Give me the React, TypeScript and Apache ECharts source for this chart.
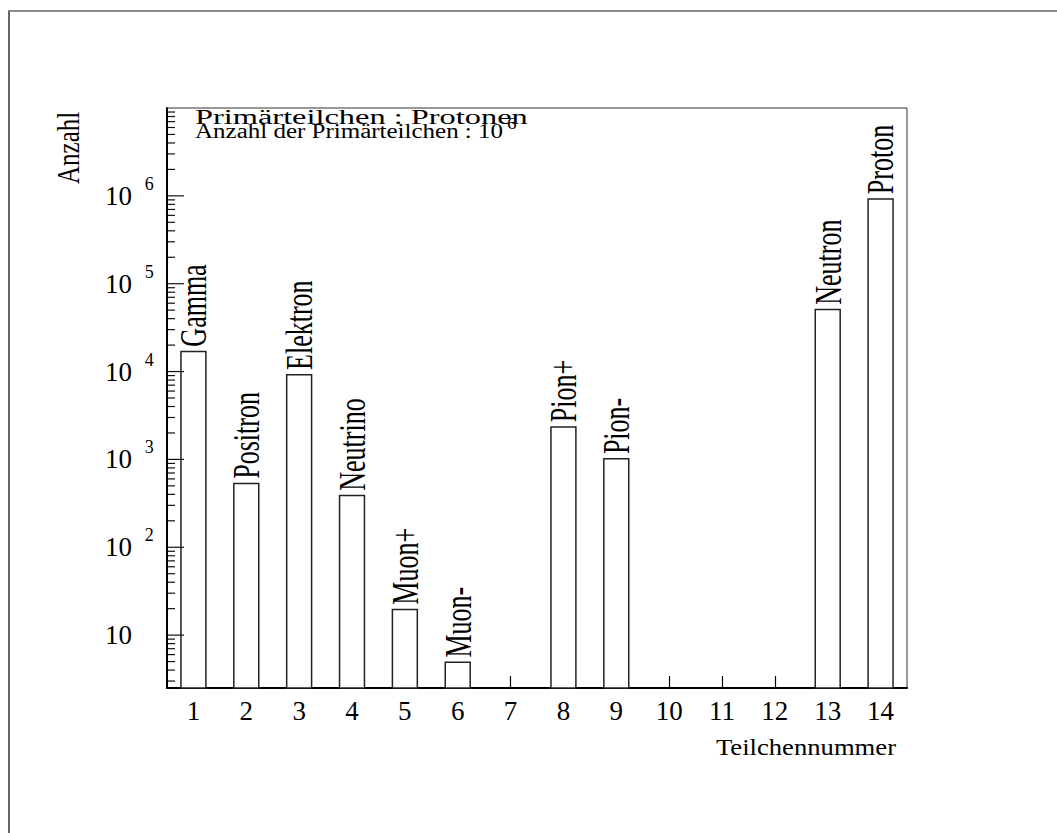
import React, { useEffect, useRef } from "react";
import * as echarts from "echarts";

const categories = ["1", "2", "3", "4", "5", "6", "7", "8", "9", "10", "11", "12", "13", "14"];
const counts: (number | null)[] = [17300, 543, 9400, 396, 20, 5, null, 2390, 1035, null, null, null, 51900, 942000];
const particleNames = ["Gamma", "Positron", "Elektron", "Neutrino", "Muon+", "Muon-", "", "Pion+", "Pion-", "", "", "", "Neutron", "Proton"];
const yMin = 2.5;
const yMax = 1e7;
const annotationLines = ["Primärteilchen : Protonen", "Anzahl der Primärteilchen : 10"];
const annotationExponent = "6";
const xTitle = "Teilchennummer";
const yTitle = "Anzahl";

const FONT = "Liberation Serif";

export default function App() {
  const ref = useRef<HTMLDivElement>(null);
  useEffect(() => {
    if (!ref.current) return;
    document.body.style.margin = "0";
    const chart = echarts.init(ref.current, undefined, { renderer: "svg" });

    // log tick positions (major at decades, minor at 2..9)
    const tickData: any[] = [];
    for (let e = 0; e <= 7; e++) {
      for (let m = 1; m <= 9; m++) {
        const v = m * Math.pow(10, e);
        if (v >= yMin && v < yMax) tickData.push([0, v, m === 1 ? 1 : 0]);
      }
    }

    const barData = counts.map((c) => (c == null ? "-" : c));
    const labelData = counts.map((c, i) => [i, c == null ? "-" : c]);

    const option: any = {
      animation: false,
      backgroundColor: "#fff",
      textStyle: { fontFamily: FONT },
      grid: {
        left: 167,
        right: 150,
        top: 108,
        bottom: 145,
        show: true,
        borderColor: "#333",
        borderWidth: 1,
        backgroundColor: "transparent",
      },
      xAxis: {
        type: "category",
        data: categories,
        boundaryGap: true,
        axisLine: { show: true, lineStyle: { color: "#000", width: 2 } },
        axisTick: { show: true, inside: true, length: 12, alignWithLabel: true, interval: 0, lineStyle: { color: "#000", width: 1.2 } },
        axisLabel: { interval: 0, margin: 9, fontSize: 27, fontFamily: FONT, color: "#000" },
        splitLine: { show: false },
      },
      yAxis: {
        type: "log",
        logBase: 10,
        min: yMin,
        max: yMax,
        axisLine: { show: true, lineStyle: { color: "#000", width: 2 } },
        axisTick: { show: false },
        splitLine: { show: false },
        minorTick: { show: false },
        axisLabel: {
          align: "left",
          margin: 62,
          fontSize: 27,
          fontFamily: FONT,
          color: "#000",
          formatter: (v: number) => {
            const lg = Math.log10(v);
            const n = Math.round(lg);
            if (Math.abs(lg - n) > 1e-6 || v >= yMax) return "";
            if (n === 1) return "{a|10}";
            return "{a|10} {e|" + n + "}";
          },
          rich: {
            a: { fontSize: 27, fontFamily: FONT, color: "#000" },
            e: { fontSize: 18, fontFamily: FONT, color: "#000", padding: [0, 0, 24, 6] },
          },
        },
      },
      series: [
        {
          type: "bar",
          data: barData,
          barWidth: "50%",
          itemStyle: { color: "#fff", borderColor: "#222", borderWidth: 1.5 },
          z: 2,
        },
        {
          type: "custom",
          data: tickData,
          z: 3,
          silent: true,
          renderItem: (params: any, api: any) => {
            const cs = params.coordSys;
            const p = api.coord([0, api.value(1)]);
            const len = api.value(2) === 1 ? 17 : 8;
            return {
              type: "line",
              shape: { x1: cs.x, y1: p[1], x2: cs.x + len, y2: p[1] },
              style: { stroke: "#111", lineWidth: 1.2 },
            };
          },
        },
        {
          type: "custom",
          data: labelData,
          z: 4,
          silent: true,
          renderItem: (params: any, api: any) => {
            const name = particleNames[params.dataIndex];
            const v = api.value(1);
            if (!name || v == null || isNaN(v)) return null;
            const p = api.coord([api.value(0), v]);
            return {
              type: "text",
              x: p[0],
              y: p[1] - 4,
              rotation: Math.PI / 2,
              scaleX: 1,
              scaleY: 1.45,
              style: {
                text: name,
                fontFamily: FONT,
                fontSize: 26,
                fill: "#000",
                align: "left",
                verticalAlign: "middle",
              },
            };
          },
        },
      ],
      graphic: [
        { type: "line", shape: { x1: 8, y1: 11, x2: 1057, y2: 11 }, style: { stroke: "#8a8a8a", lineWidth: 2 } },
        { type: "line", shape: { x1: 9, y1: 11, x2: 9, y2: 833 }, style: { stroke: "#666", lineWidth: 2 } },
        {
          type: "text",
          x: 195,
          y: 124.5 - 0.3375 * 20,
          scaleX: 1.62,
          style: { text: annotationLines[0], fontFamily: FONT, fontSize: 20, fill: "#000", align: "left", verticalAlign: "middle" },
        },
        {
          type: "text",
          x: 195,
          y: 138.5 - 0.3375 * 20,
          scaleX: 1.25,
          style: { text: annotationLines[1], fontFamily: FONT, fontSize: 20, fill: "#000", align: "left", verticalAlign: "middle" },
        },
        {
          type: "text",
          x: 507,
          y: 123.5,
          scaleX: 1.2,
          style: { text: annotationExponent, fontFamily: FONT, fontSize: 16, fill: "#000", align: "left", verticalAlign: "middle" },
        },
        {
          type: "text",
          x: 896,
          y: 755 - 0.3375 * 24,
          scaleX: 1.11,
          style: { text: xTitle, fontFamily: FONT, fontSize: 24, fill: "#000", align: "right", verticalAlign: "middle" },
        },
        {
          type: "text",
          x: 68,
          y: 184,
          rotation: Math.PI / 2,
          scaleY: 1.28,
          style: { text: yTitle, fontFamily: FONT, fontSize: 25, fill: "#000", align: "left", verticalAlign: "middle" },
        },
      ],
    };
    chart.setOption(option);
    return () => chart.dispose();
  }, []);
  return (
    <div
      ref={ref}
      style={{ position: "absolute", left: 0, top: 0, width: 1057, height: 833, background: "#fff" }}
    />
  );
}
